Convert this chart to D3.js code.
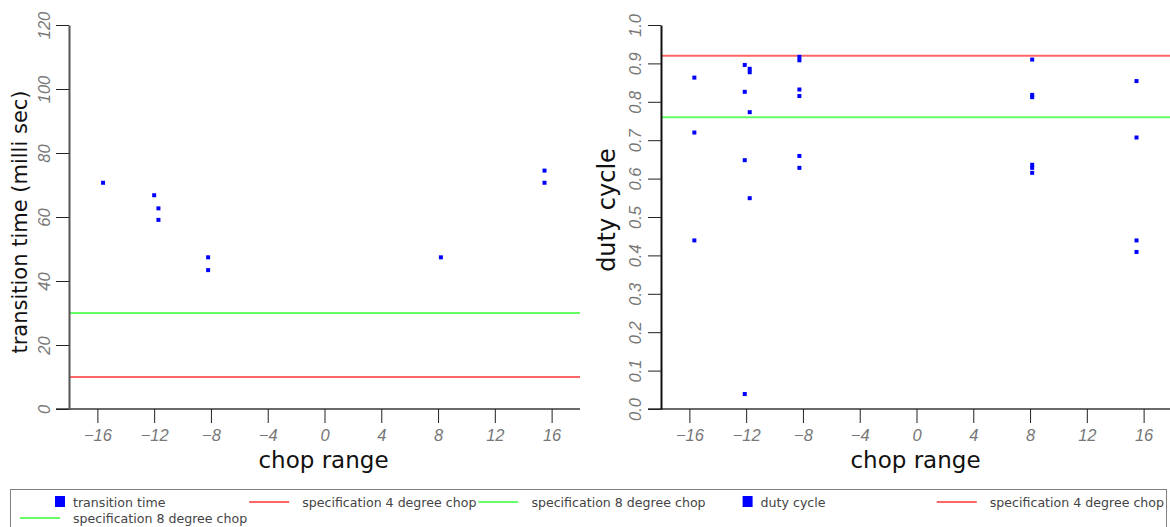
<!DOCTYPE html>
<html>
<head>
<meta charset="utf-8">
<script src="https://cdn.jsdelivr.net/npm/d3@7/dist/d3.min.js"></script>
<style>
  html, body { margin: 0; padding: 0; background: #fff; }
  svg { display: block; }
</style>
</head>
<body>
<svg id="chart" width="1170" height="527"></svg>
<script>
// ---- data ----
const chopTicks = [-16, -12, -8, -4, 0, 4, 8, 12, 16];

const transitionTicks = [0, 20, 40, 60, 80, 100, 120];
const transitionChop = [-15.6, -12.0, -11.7, -11.7, -8.2, -8.2, 8.2, 15.5, 15.5];
const transitionTime = [70.7, 66.8, 62.7, 59.1, 47.4, 43.4, 47.4, 74.5, 70.7];
const transitionSpec4 = 10;
const transitionSpec8 = 30;

const dutyTicks = [0.0, 0.1, 0.2, 0.3, 0.4, 0.5, 0.6, 0.7, 0.8, 0.9, 1.0];
const dutyChop = [
  -15.65, -15.65, -15.65,
  -12.1, -12.1, -12.1, -12.1,
  -11.75, -11.75, -11.75, -11.75,
  -8.25, -8.25, -8.25, -8.25, -8.25, -8.25,
  8.15, 8.15, 8.15, 8.15, 8.15, 8.15,
  15.5, 15.5, 15.5, 15.5
];
const dutyCycle = [
  0.863, 0.720, 0.439,
  0.896, 0.826, 0.648, 0.039,
  0.886, 0.877, 0.773, 0.549,
  0.917, 0.908, 0.832, 0.815, 0.659, 0.628,
  0.910, 0.818, 0.812, 0.636, 0.628, 0.615,
  0.854, 0.707, 0.439, 0.409
];
const dutySpec4 = 0.92;
const dutySpec8 = 0.76;

const legendLabels = [
  "transition time", "specification 4 degree chop", "specification 8 degree chop",
  "duty cycle", "specification 4 degree chop", "specification 8 degree chop"
];
const legendKinds = ["square", "line", "line", "square", "line", "line"];
const legendColors = ["#0000ff", "#ff0000", "#00ff00", "#0000ff", "#ff0000", "#00ff00"];

// ---- drawing ----
const svg = d3.select("#chart");
const tickFont = "'Liberation Sans', Arial, sans-serif";
const titleFont = "'DejaVu Sans', sans-serif";

function drawPanel(cfg) {
  const x = d3.scaleLinear().domain([-18, 18]).range([cfg.left, cfg.right]);
  const y = d3.scaleLinear().domain(cfg.yDomain).range([409, 25]);
  const g = svg.append("g");

  // specification lines
  g.selectAll("line.spec")
    .data([{ v: cfg.spec8, c: "#00ff00" }, { v: cfg.spec4, c: "#ff0000" }])
    .join("line")
    .attr("class", "spec")
    .attr("x1", x(-18)).attr("x2", x(18))
    .attr("y1", d => y(d.v)).attr("y2", d => y(d.v))
    .attr("stroke", d => d.c)
    .attr("stroke-opacity", 0.6)
    .attr("stroke-width", 2);

  // points
  g.selectAll("rect.pt")
    .data(cfg.xs.map((v, i) => [v, cfg.ys[i]]))
    .join("rect")
    .attr("class", "pt")
    .attr("x", d => x(d[0]) - 2)
    .attr("y", d => y(d[1]) - 2)
    .attr("width", 4).attr("height", 4)
    .attr("fill", "#0000ff");

  // x axis
  const xa = g.append("g")
    .attr("transform", "translate(0,409)")
    .call(d3.axisBottom(x).tickValues(chopTicks).tickSize(14).tickSizeOuter(0));
  xa.select(".domain").attr("stroke", "#6a6a6a").attr("stroke-width", 2)
    .attr("d", `M${cfg.left - 13},0H${cfg.right}`);
  xa.selectAll(".tick line").attr("stroke", "#222");
  xa.selectAll(".tick text")
    .attr("y", 32).attr("dy", 0)
    .attr("fill", "#777")
    .style("font-family", tickFont)
    .style("font-style", "italic")
    .style("font-size", "16.5px");

  // y axis
  const ya = g.append("g")
    .attr("transform", `translate(${cfg.left},0)`)
    .call(d3.axisLeft(y).tickValues(cfg.yTicks).tickFormat(cfg.fmt).tickSize(13).tickSizeOuter(0));
  ya.select(".domain").attr("stroke", cfg.yAxisColor).attr("stroke-width", 2);
  ya.selectAll(".tick line").attr("stroke", "#222");
  ya.selectAll(".tick text")
    .attr("x", 0).attr("dy", 0).attr("y", -cfg.labelGap)
    .attr("transform", "rotate(-90)")
    .attr("text-anchor", "middle")
    .attr("fill", "#777")
    .style("font-family", tickFont)
    .style("font-style", "italic")
    .style("font-size", "16.5px");

  // titles
  g.append("text")
    .attr("x", (cfg.left + cfg.right) / 2 - 1)
    .attr("y", 468)
    .attr("text-anchor", "middle")
    .style("font-family", titleFont)
    .style("font-size", "23px")
    .attr("fill", "#111")
    .text("chop range");

  g.append("text")
    .attr("transform", `translate(${cfg.titleX},${cfg.titleY}) rotate(-90)`)
    .attr("text-anchor", "middle")
    .style("font-family", titleFont)
    .style("font-size", cfg.titleSize)
    .attr("fill", "#111")
    .text(cfg.title);
}

drawPanel({
  left: 69, right: 580,
  yDomain: [0, 120], yTicks: transitionTicks, fmt: d3.format("d"),
  xs: transitionChop, ys: transitionTime,
  spec4: transitionSpec4, spec8: transitionSpec8,
  title: "transition time (milli sec)", titleX: 27, titleY: 222, titleSize: "21px",
  labelGap: 19, yAxisColor: "#555"
});

drawPanel({
  left: 661, right: 1172,
  yDomain: [0, 1], yTicks: dutyTicks, fmt: d3.format(".1f"),
  xs: dutyChop, ys: dutyCycle,
  spec4: dutySpec4, spec8: dutySpec8,
  title: "duty cycle", titleX: 615, titleY: 210, titleSize: "24px",
  labelGap: 20, yAxisColor: "#111"
});

// ---- legend ----
const legend = svg.append("g");
legend.append("rect")
  .attr("x", 10.5).attr("y", 489.5)
  .attr("width", 1156).attr("height", 60)
  .attr("fill", "none").attr("stroke", "#808080");

const colStep = 229.2, colStart = 20, perRow = 5;
legendLabels.forEach((label, i) => {
  const col = i % perRow, row = Math.floor(i / perRow);
  const cx = colStart + col * colStep;
  const cy = 502 + row * 16;
  if (legendKinds[i] === "square") {
    legend.append("rect")
      .attr("x", cx + 35).attr("y", cy - 6)
      .attr("width", 10).attr("height", 11)
      .attr("fill", legendColors[i]);
  } else {
    legend.append("line")
      .attr("x1", cx).attr("x2", cx + 40)
      .attr("y1", cy).attr("y2", cy)
      .attr("stroke", legendColors[i])
      .attr("stroke-opacity", 0.6)
      .attr("stroke-width", 2);
  }
  legend.append("text")
    .attr("x", cx + 53).attr("y", cy + 4.5)
    .style("font-family", titleFont)
    .style("font-size", "12.6px")
    .attr("fill", "#444")
    .text(label);
});
</script>
</body>
</html>
